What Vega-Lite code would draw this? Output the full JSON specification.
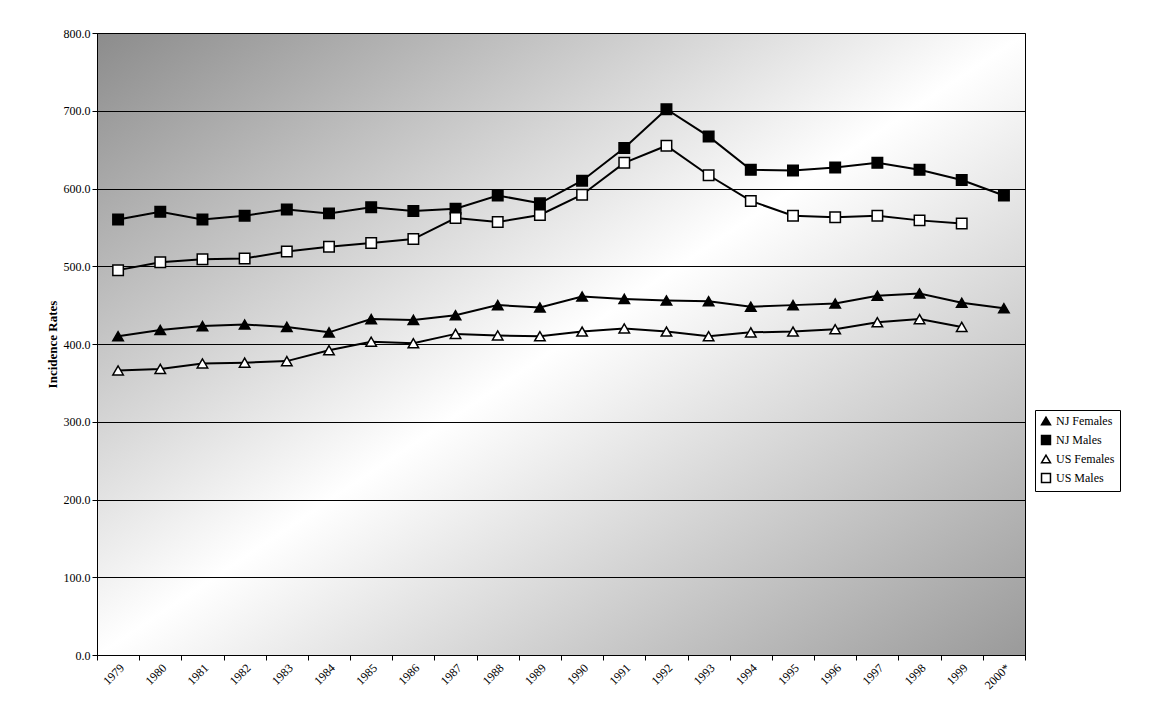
{
"$schema":"https://vega.github.io/schema/vega-lite/v6.json",
"width":928,"height":622,
"autosize":{"type":"none"},
"padding":{"left":97,"top":33,"right":145,"bottom":66},
"background":"white",
"config":{"font":"Liberation Serif","view":{"stroke":"black","strokeWidth":1,"fill":{"gradient":"linear","x1":0,"y1":0,"x2":1,"y2":1,"stops":[{"offset":0,"color":"#8c8c8c"},{"offset":0.5,"color":"#ffffff"},{"offset":1,"color":"#9a9a9a"}]}}},
"data":{"values":[
{"s":"NJ Males","y":"1979","v":560},{"s":"NJ Males","y":"1980","v":570},{"s":"NJ Males","y":"1981","v":560},{"s":"NJ Males","y":"1982","v":565},{"s":"NJ Males","y":"1983","v":573},{"s":"NJ Males","y":"1984","v":568},{"s":"NJ Males","y":"1985","v":576},{"s":"NJ Males","y":"1986","v":571},{"s":"NJ Males","y":"1987","v":574},{"s":"NJ Males","y":"1988","v":591},{"s":"NJ Males","y":"1989","v":581},{"s":"NJ Males","y":"1990","v":610},{"s":"NJ Males","y":"1991","v":652},{"s":"NJ Males","y":"1992","v":702},{"s":"NJ Males","y":"1993","v":667},{"s":"NJ Males","y":"1994","v":624},{"s":"NJ Males","y":"1995","v":623},{"s":"NJ Males","y":"1996","v":627},{"s":"NJ Males","y":"1997","v":633},{"s":"NJ Males","y":"1998","v":624},{"s":"NJ Males","y":"1999","v":611},{"s":"NJ Males","y":"2000*","v":591},
{"s":"US Males","y":"1979","v":495},{"s":"US Males","y":"1980","v":505},{"s":"US Males","y":"1981","v":509},{"s":"US Males","y":"1982","v":510},{"s":"US Males","y":"1983","v":519},{"s":"US Males","y":"1984","v":525},{"s":"US Males","y":"1985","v":530},{"s":"US Males","y":"1986","v":535},{"s":"US Males","y":"1987","v":562},{"s":"US Males","y":"1988","v":557},{"s":"US Males","y":"1989","v":566},{"s":"US Males","y":"1990","v":592},{"s":"US Males","y":"1991","v":633},{"s":"US Males","y":"1992","v":655},{"s":"US Males","y":"1993","v":617},{"s":"US Males","y":"1994","v":584},{"s":"US Males","y":"1995","v":565},{"s":"US Males","y":"1996","v":563},{"s":"US Males","y":"1997","v":565},{"s":"US Males","y":"1998","v":559},{"s":"US Males","y":"1999","v":555},
{"s":"NJ Females","y":"1979","v":410},{"s":"NJ Females","y":"1980","v":418},{"s":"NJ Females","y":"1981","v":423},{"s":"NJ Females","y":"1982","v":425},{"s":"NJ Females","y":"1983","v":422},{"s":"NJ Females","y":"1984","v":415},{"s":"NJ Females","y":"1985","v":432},{"s":"NJ Females","y":"1986","v":431},{"s":"NJ Females","y":"1987","v":437},{"s":"NJ Females","y":"1988","v":450},{"s":"NJ Females","y":"1989","v":447},{"s":"NJ Females","y":"1990","v":461},{"s":"NJ Females","y":"1991","v":458},{"s":"NJ Females","y":"1992","v":456},{"s":"NJ Females","y":"1993","v":455},{"s":"NJ Females","y":"1994","v":448},{"s":"NJ Females","y":"1995","v":450},{"s":"NJ Females","y":"1996","v":452},{"s":"NJ Females","y":"1997","v":462},{"s":"NJ Females","y":"1998","v":465},{"s":"NJ Females","y":"1999","v":453},{"s":"NJ Females","y":"2000*","v":446},
{"s":"US Females","y":"1979","v":366},{"s":"US Females","y":"1980","v":368},{"s":"US Females","y":"1981","v":375},{"s":"US Females","y":"1982","v":376},{"s":"US Females","y":"1983","v":378},{"s":"US Females","y":"1984","v":392},{"s":"US Females","y":"1985","v":403},{"s":"US Females","y":"1986","v":401},{"s":"US Females","y":"1987","v":413},{"s":"US Females","y":"1988","v":411},{"s":"US Females","y":"1989","v":410},{"s":"US Females","y":"1990","v":416},{"s":"US Females","y":"1991","v":420},{"s":"US Females","y":"1992","v":416},{"s":"US Females","y":"1993","v":410},{"s":"US Females","y":"1994","v":415},{"s":"US Females","y":"1995","v":416},{"s":"US Females","y":"1996","v":419},{"s":"US Females","y":"1997","v":428},{"s":"US Females","y":"1998","v":432},{"s":"US Females","y":"1999","v":422}
]},
"encoding":{
"x":{"field":"y","type":"ordinal","title":null,"scale":{"type":"band"},"axis":{"labelAngle":-45,"labelFontSize":12,"labelColor":"black","domainColor":"black","tickColor":"black","tickBand":"extent","labelAlign":"right","labelBaseline":"top"}},
"y":{"field":"v","type":"quantitative","title":"Incidence Rates","scale":{"domain":[0,800]},"axis":{"values":[0,100,200,300,400,500,600,700,800],"format":".1f","gridColor":"black","gridOpacity":1,"labelFontSize":12,"labelColor":"black","titleFontSize":13,"titleFontWeight":"bold","domainColor":"black","tickColor":"black"}}
},
"layer":[
{"mark":{"type":"line","color":"black","strokeWidth":2},"encoding":{"detail":{"field":"s"}}},
{"mark":{"type":"point","stroke":"black","strokeWidth":1.5,"size":110,"opacity":1},
"encoding":{
"shape":{"field":"s","type":"nominal","title":null,"scale":{"domain":["NJ Females","NJ Males","US Females","US Males"],"range":["triangle-up","square","triangle-up","square"]}},
"fill":{"field":"s","type":"nominal","title":null,"scale":{"domain":["NJ Females","NJ Males","US Females","US Males"],"range":["black","black","white","white"]},
"legend":{"orient":"none","legendX":938,"legendY":377,"strokeColor":"black","fillColor":"white","padding":5,"labelFontSize":12,"labelColor":"black","symbolStrokeColor":"black","symbolSize":80,"rowPadding":4}}}}
]
}
